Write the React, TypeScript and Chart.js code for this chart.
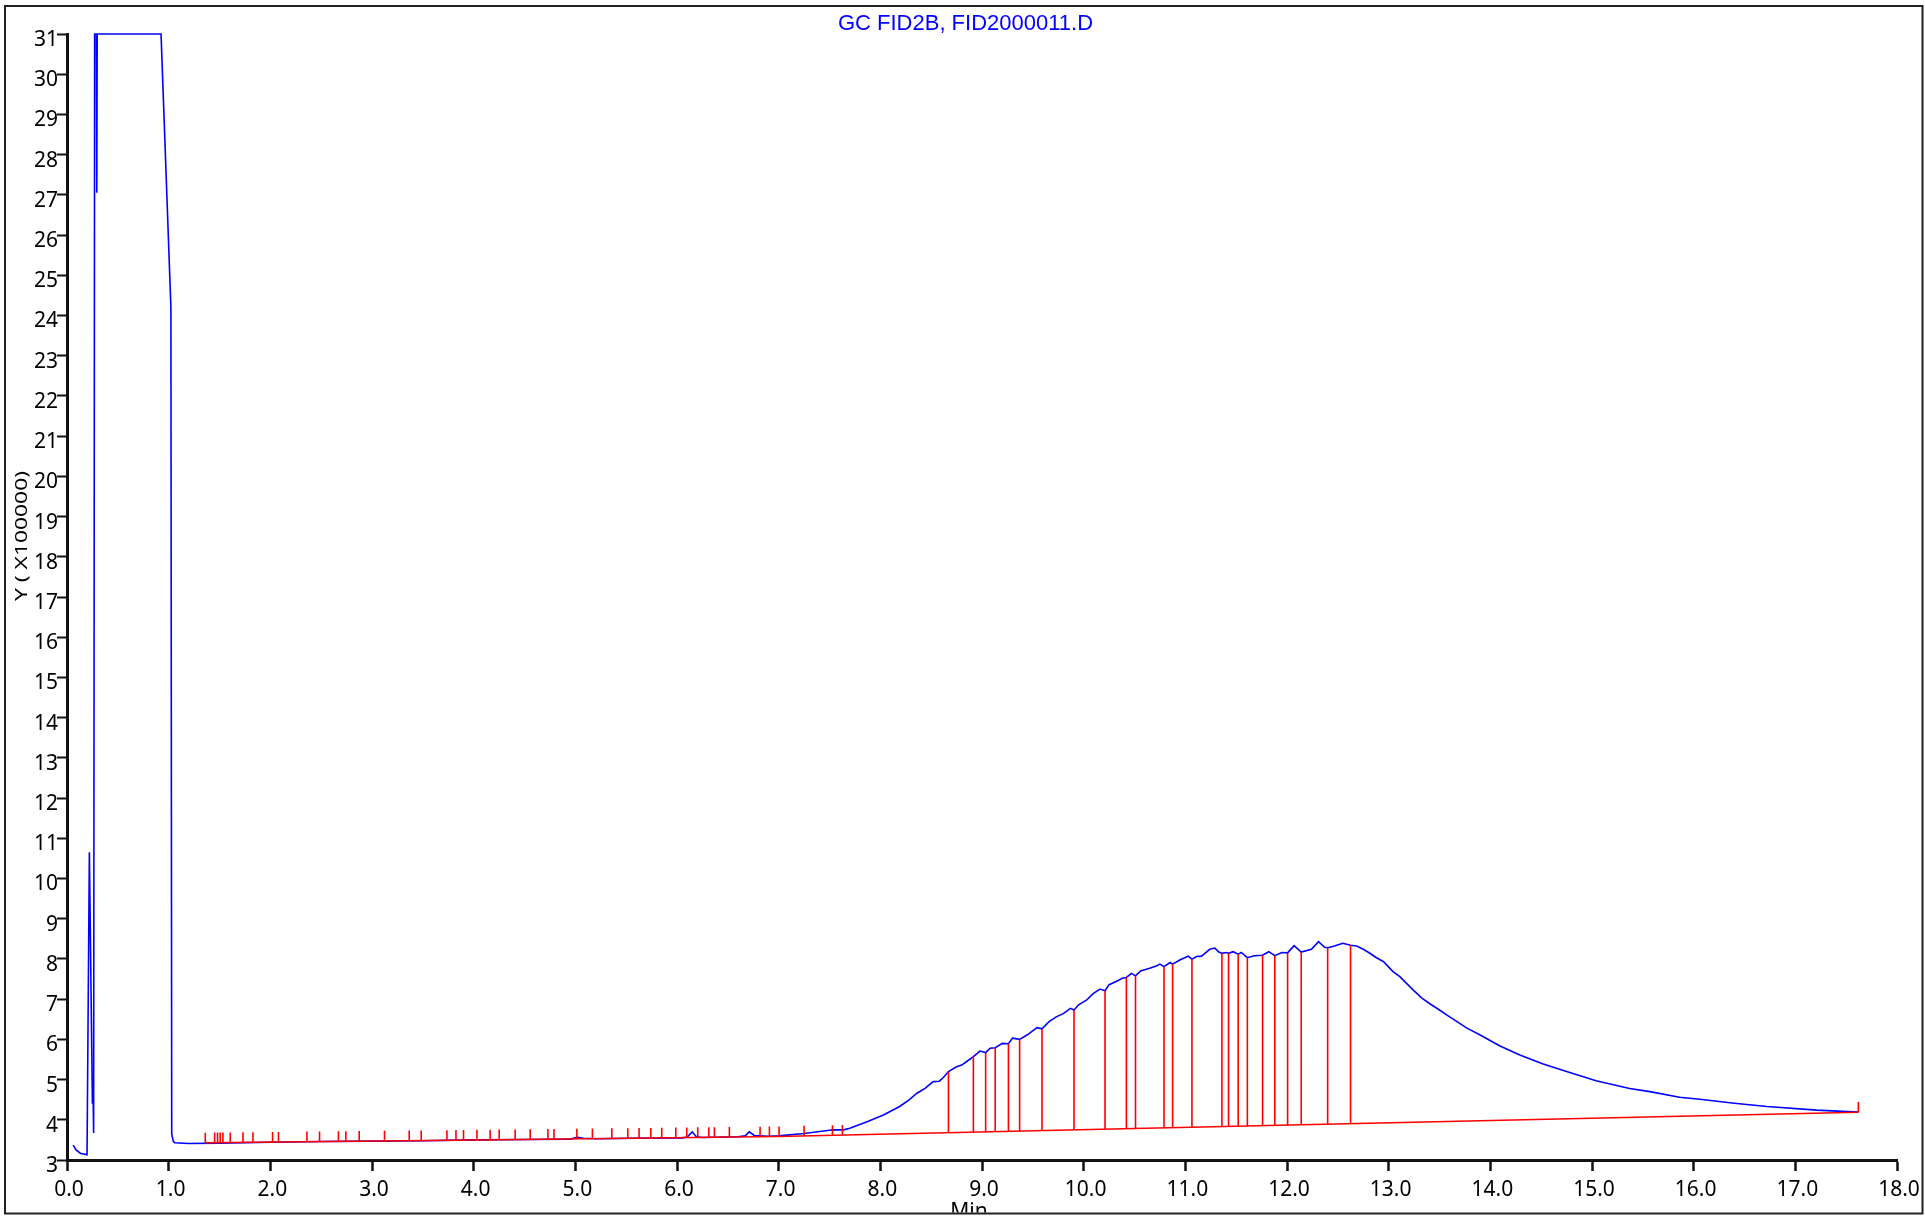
import React, { useEffect, useRef } from "react";
import { Chart, registerables } from "chart.js";

Chart.register(...registerables);

// ---------------- data ----------------
const signalTimes = [
  0.06, 0.09, 0.13, 0.197, 0.22, 0.25, 0.256, 0.262, 0.272, 0.289,
  0.293, 0.297, 0.925, 1.022, 1.03, 1.045, 1.06, 1.2, 1.5, 2.0,
  2.5, 3.0, 3.5, 4.0, 4.5, 4.95, 5.02, 5.08, 5.2, 5.6,
  6.05, 6.1, 6.15, 6.19, 6.25, 6.6, 6.67, 6.71, 6.76, 6.9,
  7.0, 7.25, 7.5, 7.53, 7.64, 7.7, 7.87, 8.03, 8.19, 8.28,
  8.36, 8.44, 8.52, 8.58, 8.62, 8.67, 8.75, 8.8, 8.85, 8.915,
  8.98, 9.036, 9.08, 9.13, 9.2, 9.26, 9.3, 9.37, 9.45, 9.54,
  9.59, 9.66, 9.73, 9.8, 9.87, 9.905, 9.95, 10.03, 10.09, 10.16,
  10.21, 10.25, 10.32, 10.38, 10.42, 10.47, 10.51, 10.56, 10.65, 10.72,
  10.75, 10.79, 10.85, 10.875, 10.95, 11.03, 11.065, 11.11, 11.16, 11.24,
  11.29, 11.33, 11.36, 11.4, 11.425, 11.47, 11.52, 11.55, 11.61, 11.68,
  11.76, 11.82, 11.88, 11.95, 12.006, 12.07, 12.14, 12.24, 12.31, 12.37,
  12.4, 12.45, 12.55, 12.625, 12.685, 12.75, 12.815, 12.88, 12.95, 13.04,
  13.11, 13.24, 13.33, 13.42, 13.5, 13.57, 13.77, 13.9, 14.09, 14.29,
  14.52, 14.75, 15.04, 15.37, 15.57, 15.86, 16.06, 16.4, 16.72, 17.21,
  17.62,
];

const signalValues = [
  3.37, 3.25, 3.17, 3.13, 10.65, 4.4, 4.75, 3.67, 31, 31,
  27.05, 31, 31, 24.2, 3.65, 3.47, 3.43, 3.41, 3.42, 3.44,
  3.46, 3.47, 3.48, 3.5, 3.51, 3.52, 3.565, 3.54, 3.53, 3.54,
  3.55, 3.57, 3.7, 3.58, 3.56, 3.58, 3.6, 3.7, 3.61, 3.59,
  3.6, 3.66, 3.74, 3.75, 3.75, 3.79, 3.95, 4.12, 4.33, 4.49,
  4.66, 4.78, 4.95, 4.96, 5.05, 5.2, 5.32, 5.36, 5.45, 5.57,
  5.71, 5.67, 5.78, 5.79, 5.9, 5.89, 6.03, 6.0, 6.12, 6.29,
  6.26, 6.44, 6.56, 6.64, 6.77, 6.73, 6.86, 6.98, 7.13, 7.25,
  7.21, 7.36, 7.44, 7.52, 7.54, 7.64, 7.58, 7.7, 7.77, 7.83,
  7.87, 7.81, 7.91, 7.87, 7.98, 8.07, 7.99, 8.06, 8.07, 8.24,
  8.27, 8.17, 8.14, 8.16, 8.14, 8.18, 8.12, 8.16, 8.03, 8.08,
  8.09, 8.18, 8.08, 8.16, 8.15, 8.33, 8.17, 8.24, 8.43, 8.29,
  8.28, 8.31, 8.39, 8.34, 8.32, 8.24, 8.14, 8.03, 7.93, 7.69,
  7.56, 7.23, 7.02, 6.86, 6.73, 6.61, 6.28, 6.11, 5.84, 5.61,
  5.39, 5.2, 4.97, 4.78, 4.7, 4.56, 4.51, 4.41, 4.33, 4.24,
  4.19,
];

const baselineTimes = [1.36, 4.06, 7.0, 17.62];
const baselineValues = [3.43, 3.5, 3.585, 4.19];

// integrated peaks: vertical drop lines from baseline to signal
const peakTimes = [
  8.67, 8.915, 9.036, 9.13, 9.26, 9.37, 9.59, 9.905, 10.21, 10.42, 10.51,
  10.79, 10.875, 11.065, 11.36, 11.425, 11.52, 11.61, 11.76, 11.88, 12.006,
  12.14, 12.4, 12.625,
];

// small event ticks above baseline
const eventTimes = [
  1.36, 1.452, 1.481, 1.507, 1.534, 1.606, 1.731, 1.829, 2.022, 2.08,
  2.36, 2.484, 2.67, 2.743, 2.874, 3.123, 3.366, 3.484, 3.737, 3.826,
  3.9, 4.032, 4.162, 4.251, 4.408, 4.556, 4.73, 4.79, 5.015, 5.168,
  5.359, 5.516, 5.627, 5.742, 5.85, 5.988, 6.096, 6.204, 6.313, 6.368,
  6.515, 6.817, 6.909, 7.004, 7.25, 7.529, 7.627, 17.62,
];
const EVENT_TICK_HEIGHT = 0.25;

const X_MIN = 0;
const X_MAX = 18;
const Y_MIN = 3;
const Y_MAX = 31;

const TITLE = "GC FID2B, FID2000011.D";
const Y_TITLE = "Y ( X100000)";
const X_TITLE = "Min";

// ---------------- helpers ----------------
function interp(ts: number[], vs: number[], t: number): number {
  if (t <= ts[0]) return vs[0];
  for (let i = 1; i < ts.length; i++) {
    if (t <= ts[i]) {
      const f = (t - ts[i - 1]) / (ts[i] - ts[i - 1]);
      return vs[i - 1] + f * (vs[i] - vs[i - 1]);
    }
  }
  return vs[vs.length - 1];
}
const baseAt = (t: number) => interp(baselineTimes, baselineValues, t);
const signalAt = (t: number) => interp(signalTimes, signalValues, t);

const FONT = "'Noto Sans', 'Open Sans', sans-serif";

const framePlugin = {
  id: "frameAndTexts",
  afterDraw(chart: any) {
    const ctx = chart.ctx as CanvasRenderingContext2D;
    ctx.save();
    // outer frame
    ctx.strokeStyle = "#222";
    ctx.lineWidth = 2;
    ctx.strokeRect(5, 6, 1917.5, 1207.5);

    // title
    ctx.fillStyle = "#0000ff";
    ctx.font = "22px 'Liberation Sans', Arial, sans-serif";
    ctx.textAlign = "center";
    ctx.textBaseline = "alphabetic";
    ctx.fillText(TITLE, 965.5, 29.5);

    // y title (rotated)
    ctx.save();
    ctx.fillStyle = "#000";
    ctx.font = "17px " + FONT;
    const w = ctx.measureText(Y_TITLE).width;
    ctx.translate(22, 536);
    ctx.rotate(-Math.PI / 2);
    ctx.scale(130 / w, 1);
    ctx.textAlign = "center";
    ctx.textBaseline = "middle";
    ctx.fillText(Y_TITLE, 0, 0);
    ctx.restore();

    // x title, clipped by frame
    ctx.save();
    ctx.beginPath();
    ctx.rect(6, 7, 1915, 1205.5);
    ctx.clip();
    ctx.fillStyle = "#000";
    ctx.font = "21px " + FONT;
    ctx.textAlign = "center";
    ctx.textBaseline = "alphabetic";
    ctx.fillText(X_TITLE, 969, 1218);
    ctx.restore();

    ctx.restore();
  },
};

export default function App() {
  const canvasRef = useRef<HTMLCanvasElement | null>(null);

  useEffect(() => {
    document.body.style.margin = "0";
    const canvas = canvasRef.current;
    if (!canvas) return;

    const signalData = signalTimes.map((t, i) => ({ x: t, y: signalValues[i] }));
    const baselineData = baselineTimes.map((t, i) => ({ x: t, y: baselineValues[i] }));
    const peakData: any[] = [];
    peakTimes.forEach((t) => {
      peakData.push({ x: t, y: baseAt(t) });
      peakData.push({ x: t, y: signalAt(t) });
      peakData.push({ x: t, y: null });
    });
    const eventData: any[] = [];
    eventTimes.forEach((t) => {
      const b = baseAt(t);
      eventData.push({ x: t, y: b });
      eventData.push({ x: t, y: b + EVENT_TICK_HEIGHT });
      eventData.push({ x: t, y: null });
    });

    const tickFont = { family: FONT, size: 21 };

    const chart = new Chart(canvas, {
      type: "line",
      data: {
        datasets: [
          {
            label: "signal",
            data: signalData,
            borderColor: "#0000ff",
            borderWidth: 1.6,
            pointRadius: 0,
            tension: 0,
            fill: false,
            order: 3,
            clip: 6,
          } as any,
          {
            label: "baseline",
            data: baselineData,
            borderColor: "#ff0000",
            borderWidth: 1.5,
            pointRadius: 0,
            tension: 0,
            fill: false,
            order: 2,
          },
          {
            label: "peaks",
            data: peakData,
            borderColor: "#ff0000",
            borderWidth: 1.6,
            pointRadius: 0,
            tension: 0,
            fill: false,
            spanGaps: false,
            order: 1,
          },
          {
            label: "events",
            data: eventData,
            borderColor: "#ff0000",
            borderWidth: 1.6,
            pointRadius: 0,
            tension: 0,
            fill: false,
            spanGaps: false,
            order: 1,
          },
        ],
      },
      options: {
        animation: false,
        responsive: false,
        devicePixelRatio: 1,
        events: [],
        layout: { padding: { left: 0, top: 34, right: 28, bottom: 0 } },
        plugins: {
          legend: { display: false },
          tooltip: { enabled: false },
          title: { display: false },
        },
        scales: {
          x: {
            type: "linear",
            min: X_MIN,
            max: X_MAX,
            afterFit: (s: any) => {
              s.height = 56;
            },
            ticks: {
              stepSize: 1,
              autoSkip: false,
              maxRotation: 0,
              padding: 6,
              labelOffset: 2,
              font: tickFont,
              color: "#000",
              callback: (v: any) => Number(v).toFixed(1),
            },
            grid: {
              drawOnChartArea: false,
              drawTicks: true,
              tickLength: 11,
              tickWidth: 2.5,
              tickColor: "#111",
            },
            border: { display: true, color: "#111", width: 3 },
          },
          y: {
            type: "linear",
            min: Y_MIN,
            max: Y_MAX,
            afterFit: (s: any) => {
              s.width = 67;
            },
            ticks: {
              stepSize: 1,
              autoSkip: false,
              padding: -1,
              labelOffset: 6,
              font: tickFont,
              color: "#000",
              callback: (v: any) => String(v),
            },
            grid: {
              drawOnChartArea: false,
              drawTicks: true,
              tickLength: 10,
              tickWidth: 2,
              tickColor: "#111",
            },
            border: { display: true, color: "#111", width: 3 },
          },
        },
      } as any,
      plugins: [framePlugin],
    });

    return () => {
      chart.destroy();
    };
  }, []);

  return (
    <div style={{ position: "fixed", left: 0, top: 0, width: 1925, height: 1216, background: "#fff" }}>
      <canvas ref={canvasRef} width={1925} height={1216} style={{ display: "block", width: 1925, height: 1216 }} />
    </div>
  );
}
